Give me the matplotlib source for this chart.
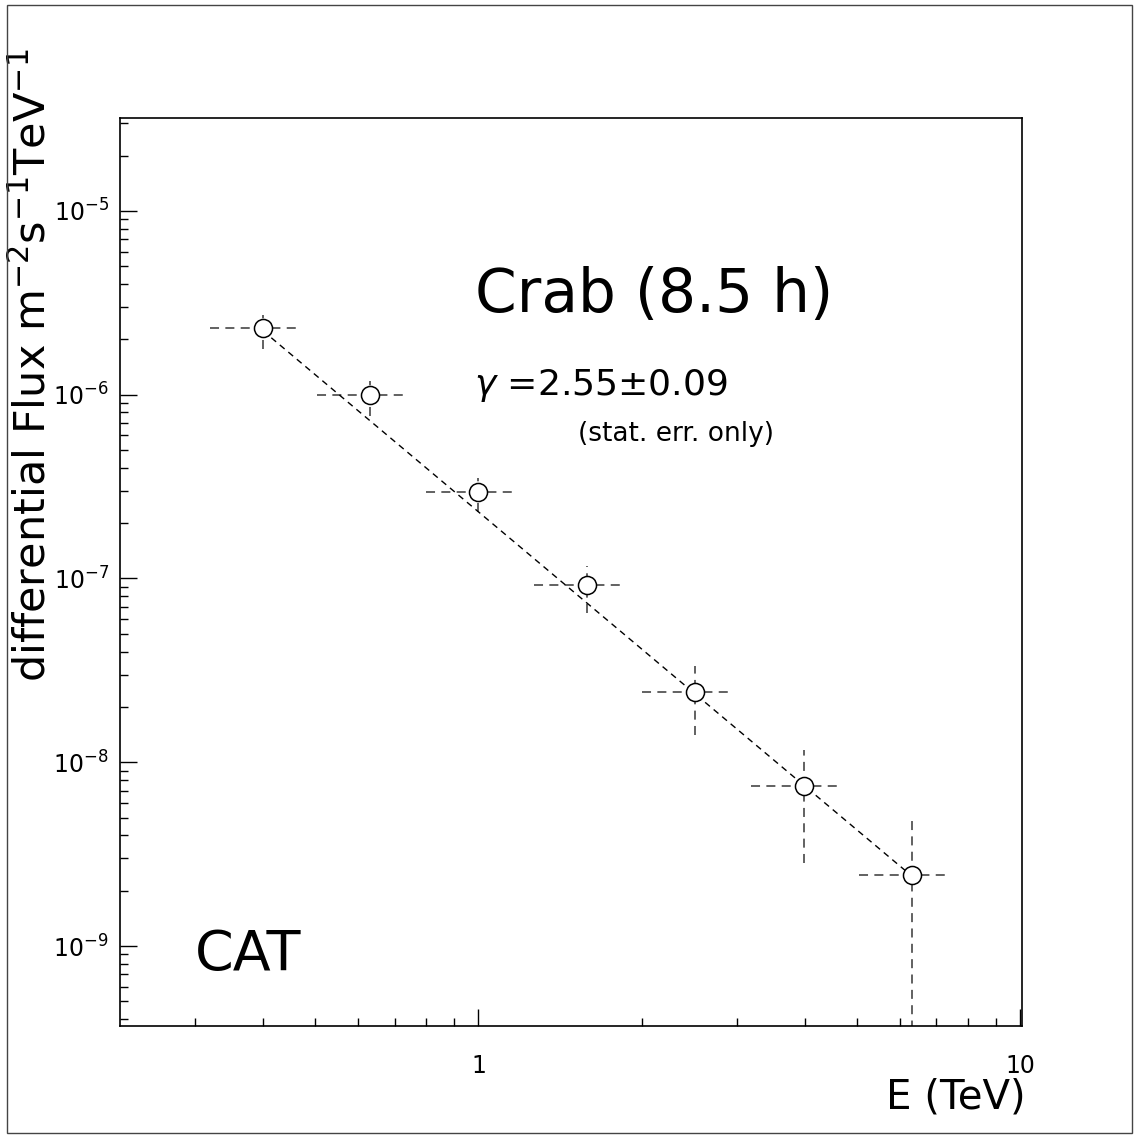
import numpy as np
import matplotlib
matplotlib.use('Agg')
import matplotlib.pyplot as plt
from matplotlib.patches import Rectangle
from matplotlib.ticker import FixedLocator, FixedFormatter, NullFormatter

energy = [0.40, 0.63, 1.00, 1.585, 2.51, 3.98, 6.31]
energy_lo = [0.32, 0.504, 0.80, 1.266, 2.00, 3.18, 5.04]
energy_hi = [0.468, 0.738, 1.169, 1.853, 2.935, 4.65, 7.38]
flux = [2.31e-6, 1.0e-6, 2.97e-7, 9.2e-8, 2.40e-8, 7.4e-9, 2.43e-9]
flux_lo = [1.78e-6, 7.7e-7, 2.29e-7, 6.5e-8, 1.40e-8, 2.83e-9, 1e-11]
flux_hi = [2.72e-6, 1.18e-6, 3.54e-7, 1.17e-7, 3.33e-8, 1.17e-8, 5.0e-9]

# power-law fit, drawn between first and last point
fit_energy = [0.40, 6.31]
fit_flux = [2.23e-6, 2.4e-9]

# axis tick labels
x_ticks = [1, 10]
x_ticklabels = ['1', '10']
y_ticks = [1e-9, 1e-8, 1e-7, 1e-6, 1e-5]
y_ticklabels = ['$10^{-9}$', '$10^{-8}$', '$10^{-7}$', '$10^{-6}$', '$10^{-5}$']

plt.rcParams['font.family'] = ['DejaVu Sans']
plt.rcParams['mathtext.default'] = 'regular'

fig = plt.figure(figsize=(11.35, 11.36), dpi=100)
ax = fig.add_axes([0.1057, 0.0968, 0.7947, 0.7993])

e = np.array(energy)
f = np.array(flux)
xerr = [e - np.array(energy_lo), np.array(energy_hi) - e]
yerr = [f - np.array(flux_lo), np.array(flux_hi) - f]

ax.plot(fit_energy, fit_flux, color='black', lw=1.0, ls=(0, (4.5, 3.5)), zorder=2)

eb = ax.errorbar(e, f, xerr=xerr, yerr=yerr, fmt='none', ecolor='#555555',
                 elinewidth=1.3, capsize=0, zorder=1)
for lc in eb[2]:
    lc.set_linestyle((0, (5, 3.5)))

ax.plot(e, f, 'o', ms=13, mfc='white', mec='black', mew=1.1, zorder=3)

ax.set_xscale('log')
ax.set_yscale('log')
ax.set_xlim(0.218, 10.07)
ax.set_ylim(3.67e-10, 3.2e-5)

ax.xaxis.set_major_locator(FixedLocator(x_ticks))
ax.xaxis.set_major_formatter(FixedFormatter(x_ticklabels))
ax.xaxis.set_minor_formatter(NullFormatter())
ax.yaxis.set_major_locator(FixedLocator(y_ticks))
ax.yaxis.set_major_formatter(FixedFormatter(y_ticklabels))
ax.yaxis.set_minor_formatter(NullFormatter())

ax.tick_params(which='both', direction='in', top=False, right=False)
ax.tick_params(which='major', length=12, width=1.0, labelsize=17, pad=8)
ax.tick_params(which='minor', length=6, width=1.0)
ax.tick_params(axis='x', which='major', pad=20)
for s in ax.spines.values():
    s.set_linewidth(1.2)

ax.set_ylabel('differential Flux m$^{-2}$s$^{-1}$TeV$^{-1}$', fontsize=31)
ax.yaxis.set_label_coords(-0.073, 0.728)
ax.set_xlabel('E (TeV)', fontsize=29)
ax.xaxis.set_label_coords(1.004, -0.057)
ax.xaxis.label.set_horizontalalignment('right')

ax.text(0.394, 0.805, 'Crab (8.5 h)', transform=ax.transAxes, fontsize=43,
        ha='left', va='center')
ax.text(0.393, 0.705, r'$\it{\gamma}$ =2.55$\pm$0.09', transform=ax.transAxes,
        fontsize=26, ha='left', va='center')
ax.text(0.508, 0.652, '(stat. err. only)', transform=ax.transAxes,
        fontsize=19, ha='left', va='center')
ax.text(0.083, 0.078, 'CAT', transform=ax.transAxes, fontsize=40,
        ha='left', va='center')

# thin frame around the whole picture
fig.patches.append(Rectangle((0.006, 0.003), 0.991, 0.993, transform=fig.transFigure,
                             fill=False, lw=1.0, ec='#444444'))

fig.savefig('out.png', dpi=100)
